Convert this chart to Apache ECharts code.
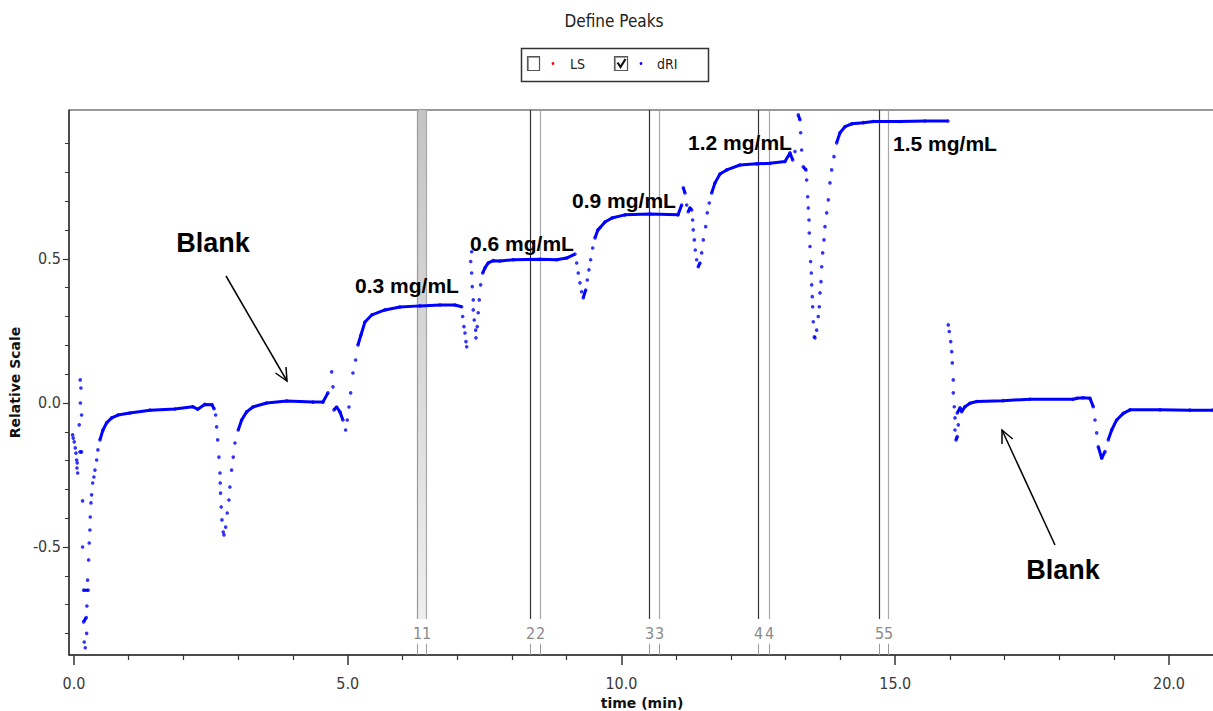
<!DOCTYPE html>
<html><head><meta charset="utf-8">
<script src="https://cdn.jsdelivr.net/npm/echarts@6/dist/echarts.min.js"></script>
<style>html,body{margin:0;padding:0;background:#fff}#c{width:1213px;height:711px}</style>
</head><body><div id="c"></div>
<script>
// ---------- DATA ----------
const timeMin = [
-0.024,-0.013,0.005,0.024,0.037,0.049,0.060,0.055,0.068,
0.115,0.128,0.118,0.140,0.097,0.110,0.140,0.158,0.158,0.177,0.261,0.177,0.225,0.188,0.207,
0.232,0.237,0.250,0.268,0.279,0.292,0.298,0.311,0.323,0.342,0.365,0.384,0.415,0.438,0.475,0.530,0.597,0.689,0.804,
1.020,1.390,1.840,2.170,2.260,2.390,2.520,2.560,
2.588,2.606,2.625,2.648,2.667,2.672,2.678,2.690,2.703,2.727,2.740,2.771,2.800,2.831,2.849,2.880,2.910,2.941,3.001,3.063,3.154,3.269,3.520,3.885,4.365,4.548,
4.639,4.707,4.731,4.749,4.798,4.858,4.913,4.962,4.992,5.023,5.054,5.096,5.145,5.187,5.242,5.315,5.443,5.680,5.954,6.320,6.685,6.959,7.081,
7.099,7.123,7.142,7.160,7.173,7.264,7.246,7.264,7.275,7.293,7.293,7.311,7.337,7.342,7.366,7.384,7.403,7.428,7.465,7.507,7.567,7.659,7.781,8.024,8.511,8.816,8.999,9.151,
9.182,9.211,9.242,9.273,9.302,9.346,9.376,9.406,9.437,9.474,9.516,9.571,9.607,9.699,9.826,10.064,10.521,11.032,
11.099,11.129,11.160,11.191,11.220,11.251,11.282,11.300,11.311,11.330,11.348,11.373,11.403,11.434,11.465,11.494,11.538,11.567,11.604,11.647,11.708,11.799,11.922,12.164,12.469,12.712,12.986,
13.078,13.127,13.169,13.229,13.260,13.273,13.291,13.320,13.370,13.382,13.401,13.412,13.425,13.430,13.443,13.455,13.467,13.474,13.485,13.492,13.503,13.522,13.534,
13.565,13.594,13.613,13.626,13.644,13.657,13.675,13.699,13.717,13.748,13.777,13.808,13.839,13.881,13.930,13.991,14.082,14.205,14.417,14.599,15.087,15.543,15.963,
15.969,15.987,16.013,16.031,16.042,16.060,16.060,16.078,16.091,16.091,16.110,16.133,16.152,16.133,16.183,16.213,16.274,16.365,16.487,16.968,17.461,18.247,18.314,18.429,18.557,
18.617,18.648,18.679,18.708,18.770,18.831,18.891,18.953,19.044,19.165,19.288,19.836,20.384,20.800
];
const dRI = [
-0.111,-0.122,-0.135,-0.156,-0.174,-0.198,-0.208,-0.226,-0.243,
0.080,0.052,0.000,-0.042,-0.076,-0.170,-0.170,-0.340,-0.500,-0.650,-0.650,-0.760,-0.745,-0.830,-0.850,
-0.800,-0.705,-0.615,-0.545,-0.486,-0.441,-0.396,-0.347,-0.319,-0.278,-0.257,-0.233,-0.198,-0.163,-0.128,-0.094,-0.069,-0.052,-0.042,
-0.035,-0.025,-0.021,-0.013,-0.022,-0.005,-0.006,-0.020,
-0.042,-0.083,-0.128,-0.188,-0.243,-0.278,-0.313,-0.361,-0.406,-0.448,-0.458,-0.431,-0.382,-0.337,-0.292,-0.233,-0.188,-0.139,-0.094,-0.059,-0.031,-0.014,0.000,0.007,0.003,0.003,
0.035,0.108,0.056,-0.024,-0.014,-0.031,-0.059,-0.094,-0.059,-0.014,0.035,0.104,0.149,0.201,0.236,0.281,0.306,0.323,0.333,0.337,0.340,0.340,0.334,
0.300,0.265,0.243,0.213,0.195,0.525,0.491,0.451,0.404,0.358,0.323,0.288,0.253,0.226,0.265,0.313,0.358,0.410,0.451,0.469,0.486,0.494,0.493,0.497,0.499,0.497,0.503,0.517,
0.486,0.451,0.417,0.386,0.365,0.392,0.427,0.462,0.497,0.538,0.573,0.601,0.608,0.628,0.642,0.653,0.656,0.653,
0.687,0.747,0.729,0.687,0.664,0.677,0.670,0.635,0.601,0.566,0.531,0.497,0.473,0.486,0.521,0.566,0.612,0.660,0.694,0.729,0.764,0.795,0.809,0.826,0.830,0.832,0.838,
0.868,0.844,0.873,1.000,0.983,0.938,0.878,0.820,0.809,0.774,0.716,0.677,0.635,0.590,0.543,0.491,0.451,0.410,0.369,0.334,0.282,0.230,0.226,
0.253,0.300,0.334,0.382,0.421,0.473,0.521,0.566,0.612,0.660,0.705,0.764,0.809,0.855,0.903,0.938,0.959,0.969,0.973,0.977,0.977,0.979,0.979,
0.271,0.248,0.213,0.178,0.139,0.080,0.035,-0.013,-0.052,-0.094,-0.128,-0.117,-0.076,-0.035,-0.017,-0.030,-0.013,-0.001,0.005,0.008,0.013,0.013,0.016,0.018,0.016,
-0.013,-0.059,-0.104,-0.152,-0.192,-0.169,-0.128,-0.094,-0.059,-0.036,-0.024,-0.024,-0.025,-0.025
];
const peakStart = [6.26, 8.33, 10.50, 12.49, 14.70];
const peakEnd   = [6.43, 8.51, 10.68, 12.69, 14.87];
const peakLabels = ['1', '2', '3', '4', '5'];
const selectedPeak = 0;
const xMajorTicks = [0, 5, 10, 15, 20];
const xMinorTicks = [1,2,3,4,6,7,8,9,11,12,13,14,16,17,18,19];
const yMajorTicks = [-0.5, 0, 0.5];
const yMinorTicks = [-0.8,-0.7,-0.6,-0.4,-0.3,-0.2,-0.1,0.1,0.2,0.3,0.4,0.6,0.7,0.8,0.9];
const concLabels = ['0.3 mg/mL', '0.6 mg/mL', '0.9 mg/mL', '1.2 mg/mL', '1.5 mg/mL'];
const blankLabel = 'Blank';

// ---------- LAYOUT ----------
const X_MIN = -0.09, X_MAX = 20.84, Y_MIN = -0.875, Y_MAX = 1.017;
const G = {left: 69, top: 110, width: 1146, height: 545};
const pxT = G.width / (X_MAX - X_MIN), pxV = G.height / (Y_MAX - Y_MIN);
const condensed = '"DejaVu Sans Condensed", "DejaVu Sans", sans-serif';
const arial = '"Liberation Sans", Arial, sans-serif';

const pts = timeMin.map((t, i) => [t, dRI[i]]);
// connected line only where the trace is not steep (dense sampling looks solid)
const lineData = [];
for (let i = 0; i < pts.length; i++) {
  if (i > 0) {
    const dx = (pts[i][0] - pts[i-1][0]) * pxT;
    const dy = Math.abs(pts[i][1] - pts[i-1][1]) * pxV;
    if (!(dx > 0 && dy <= Math.max(2.5, 3.5 * dx))) lineData.push([pts[i][0], '-']);
  }
  lineData.push(pts[i]);
}

const chart = echarts.init(document.getElementById('c'), null, {renderer: 'svg'});

function renderPeak(params, api) {
  const s = api.value(0), e = api.value(1), idx = api.value(2);
  const top = api.coord([s, Y_MAX])[1];
  const lineBot = api.coord([s, -0.75])[1];
  const labY = api.coord([s, -0.80])[1];
  const tickTop = api.coord([s, -0.836])[1];
  const axisY = api.coord([s, Y_MIN])[1];
  const xs = Math.round(api.coord([s, 0])[0]) + 0.5;
  const xe = Math.round(api.coord([e, 0])[0]) + 0.5;
  const sel = idx === selectedPeak;
  const children = [];
  if (sel) {
    children.push({type: 'rect', shape: {x: xs, y: top, width: xe - xs, height: lineBot - top},
      style: {fill: new echarts.graphic.LinearGradient(0, 0, 0, 1, [{offset: 0, color: '#c4c4c4'}, {offset: 1, color: '#eeeeee'}])}});
  }
  children.push({type: 'line', shape: {x1: xs, y1: top, x2: xs, y2: lineBot}, style: {stroke: sel ? '#9a9a9a' : '#333', lineWidth: 1.2}});
  children.push({type: 'line', shape: {x1: xe, y1: top, x2: xe, y2: lineBot}, style: {stroke: '#a8a8a8', lineWidth: 1.2}});
  [xs, xe].forEach(x => {
    children.push({type: 'text', style: {text: peakLabels[idx], x: x, y: labY, textAlign: 'center', textVerticalAlign: 'middle', fill: '#8a8a8a', font: '16px ' + condensed}});
    children.push({type: 'line', shape: {x1: x, y1: tickTop, x2: x, y2: axisY}, style: {stroke: '#999', lineWidth: 1}});
  });
  return {type: 'group', children: children};
}

const axisFont = {fontFamily: condensed, fontSize: 16, color: '#3a3a3a'};
const option = {
  animation: false,
  backgroundColor: '#fff',
  grid: {left: G.left, top: G.top, width: G.width, height: G.height, show: true, borderColor: '#333', borderWidth: 1, containLabel: false, outerBoundsMode: 'none'},
  xAxis: [{
    type: 'value', min: X_MIN, max: X_MAX, position: 'bottom',
    name: 'time (min)', nameLocation: 'middle', nameGap: 40,
    nameTextStyle: {fontFamily: '"DejaVu Sans", sans-serif', fontWeight: 'bold', fontSize: 14, color: '#111'},
    axisLine: {show: true, onZero: false, lineStyle: {color: '#333', width: 1.5}},
    axisTick: {show: true, customValues: xMajorTicks, length: 10, lineStyle: {color: '#333', width: 1.5}},
    axisLabel: {customValues: xMajorTicks, formatter: v => Number(v).toFixed(1), margin: 20, ...axisFont},
    splitLine: {show: false}
  }, {
    type: 'value', min: X_MIN, max: X_MAX, position: 'bottom',
    axisLine: {show: false, onZero: false},
    axisTick: {show: true, customValues: xMinorTicks, length: 5, lineStyle: {color: '#333', width: 1.2}},
    axisLabel: {show: false}, splitLine: {show: false}
  }],
  yAxis: [{
    type: 'value', min: Y_MIN, max: Y_MAX, position: 'left',
    name: 'Relative Scale', nameLocation: 'middle', nameGap: 44,
    nameTextStyle: {fontFamily: '"DejaVu Sans", sans-serif', fontWeight: 'bold', fontSize: 14, color: '#111'},
    axisLine: {show: true, onZero: false, lineStyle: {color: '#333', width: 1.5}},
    axisTick: {show: true, customValues: yMajorTicks, length: 6, lineStyle: {color: '#333', width: 1.2}},
    axisLabel: {customValues: yMajorTicks, formatter: v => Number(v).toFixed(1), margin: 8, ...axisFont},
    splitLine: {show: false}
  }, {
    type: 'value', min: Y_MIN, max: Y_MAX, position: 'left',
    axisLine: {show: false, onZero: false},
    axisTick: {show: true, customValues: yMinorTicks, length: 4, lineStyle: {color: '#333', width: 1}},
    axisLabel: {show: false}, splitLine: {show: false}
  }],
  series: [{
    type: 'custom', name: 'peaks', silent: true, z: 1, clip: false,
    renderItem: renderPeak,
    data: peakStart.map((s, i) => [s, peakEnd[i], i]),
    encode: {x: [0, 1]}
  }, {
    type: 'line', name: 'dRI-trace', silent: true, z: 3, showSymbol: false, connectNulls: false,
    data: lineData, lineStyle: {color: '#0000ff', width: 3}, itemStyle: {color: '#0000ff'}
  }, {
    type: 'scatter', name: 'dRI', silent: true, z: 4, symbolSize: 3.6,
    data: pts, itemStyle: {color: '#0000ff'}
  }],
  graphic: [
    {type: 'text', z: 10, style: {text: 'Define Peaks', x: 614, y: 21, textAlign: 'center', textVerticalAlign: 'middle', font: '17px ' + condensed, fill: '#222'}},
    {type: 'rect', z: 10, shape: {x: 521.5, y: 48.5, width: 187, height: 33}, style: {fill: '#fff', stroke: '#333', lineWidth: 1.5}},
    {type: 'rect', z: 11, shape: {x: 527.5, y: 56.5, width: 12, height: 14}, style: {fill: '#fff', stroke: '#555', lineWidth: 1.2}},
    {type: 'polyline', z: 11, shape: {points: [[528.5, 70], [528.5, 57.5], [539, 57.5]]}, style: {stroke: '#999', lineWidth: 1.2, fill: null}},
    {type: 'circle', z: 11, shape: {cx: 553, cy: 63.5, r: 1.4}, style: {fill: '#ff0000'}},
    {type: 'text', z: 11, style: {text: 'LS', x: 570, y: 64, textVerticalAlign: 'middle', font: '14px ' + condensed, fill: '#222'}},
    {type: 'rect', z: 11, shape: {x: 614.5, y: 56.5, width: 13, height: 14}, style: {fill: '#fff', stroke: '#555', lineWidth: 1.2}},
    {type: 'polyline', z: 11, shape: {points: [[615.5, 70], [615.5, 57.5], [626.5, 57.5]]}, style: {stroke: '#999', lineWidth: 1.2, fill: null}},
    {type: 'polyline', z: 12, shape: {points: [[617.5, 62.5], [620.5, 67], [625.5, 59]]}, style: {stroke: '#111', lineWidth: 2.2, fill: null}},
    {type: 'circle', z: 11, shape: {cx: 641, cy: 63.5, r: 1.4}, style: {fill: '#0000ff'}},
    {type: 'text', z: 11, style: {text: 'dRI', x: 657, y: 64, textVerticalAlign: 'middle', font: '14px ' + condensed, fill: '#222'}},

    {type: 'text', z: 10, style: {text: concLabels[0], x: 407, y: 285, textAlign: 'center', textVerticalAlign: 'middle', font: 'bold 21px ' + arial, fill: '#000'}},
    {type: 'text', z: 10, style: {text: concLabels[1], x: 522, y: 243, textAlign: 'center', textVerticalAlign: 'middle', font: 'bold 21px ' + arial, fill: '#000'}},
    {type: 'text', z: 10, style: {text: concLabels[2], x: 624, y: 200, textAlign: 'center', textVerticalAlign: 'middle', font: 'bold 21px ' + arial, fill: '#000'}},
    {type: 'text', z: 10, style: {text: concLabels[3], x: 740, y: 142, textAlign: 'center', textVerticalAlign: 'middle', font: 'bold 21px ' + arial, fill: '#000'}},
    {type: 'text', z: 10, style: {text: concLabels[4], x: 945, y: 143, textAlign: 'center', textVerticalAlign: 'middle', font: 'bold 21px ' + arial, fill: '#000'}},

    {type: 'text', z: 10, style: {text: blankLabel, x: 213, y: 243, textAlign: 'center', textVerticalAlign: 'middle', font: 'bold 27px ' + arial, fill: '#000'}},
    {type: 'line', z: 10, shape: {x1: 226, y1: 276, x2: 287, y2: 381}, style: {stroke: '#000', lineWidth: 1.5}},
    {type: 'polyline', z: 10, shape: {points: [[286, 367], [287, 381], [275.5, 373]]}, style: {stroke: '#000', lineWidth: 1.5, fill: null}},
    {type: 'text', z: 10, style: {text: blankLabel, x: 1063, y: 570, textAlign: 'center', textVerticalAlign: 'middle', font: 'bold 27px ' + arial, fill: '#000'}},
    {type: 'line', z: 10, shape: {x1: 1055, y1: 545, x2: 1002, y2: 430}, style: {stroke: '#000', lineWidth: 1.5}},
    {type: 'polyline', z: 10, shape: {points: [[1002, 444], [1002, 430], [1012.7, 439]]}, style: {stroke: '#000', lineWidth: 1.5, fill: null}}
  ]
};
chart.setOption(option);
</script>
</body></html>
